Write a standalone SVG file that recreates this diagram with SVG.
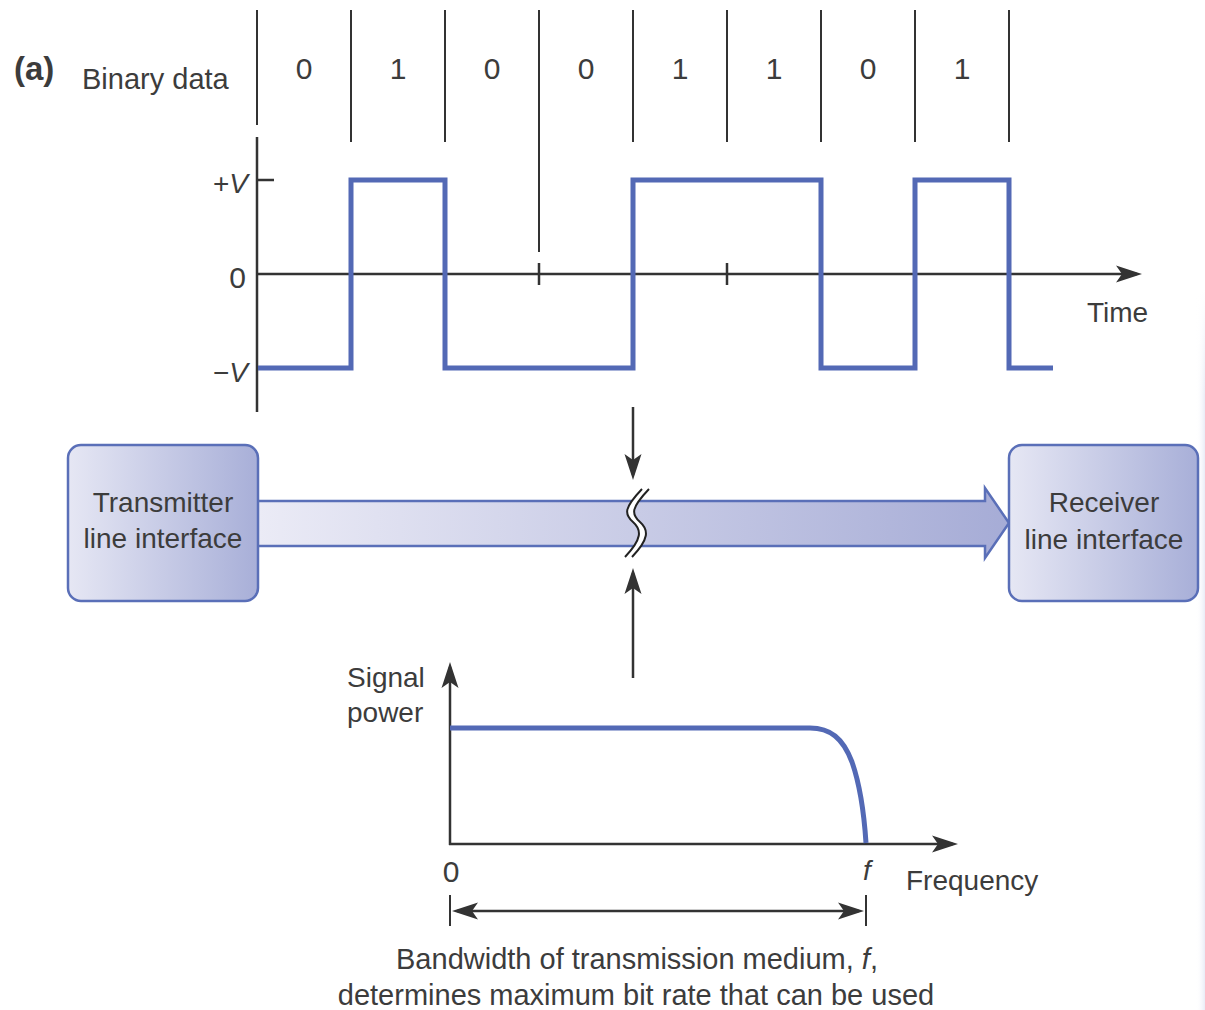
<svg xmlns="http://www.w3.org/2000/svg" width="1205" height="1010" viewBox="0 0 1205 1010">
<style>
text{font-family:"Liberation Sans",Arial,sans-serif;fill:#3c3c3c;font-size:28px}
.mid{text-anchor:middle}
.end{text-anchor:end}
.ax{stroke:#333;stroke-width:2.5;fill:none}
.bit{stroke:#333;stroke-width:2;fill:none}
.wave{stroke:#5369b5;stroke-width:5;fill:none;stroke-linejoin:miter}
.box{stroke:#5a6fb8;stroke-width:2.5;fill:url(#gBox)}
.it{font-style:italic}
.dig{font-size:30px}
.note{font-size:29px}
</style>
<defs>
<linearGradient id="gBox" x1="0" y1="0" x2="1" y2="0">
<stop offset="0" stop-color="#e6e7f4"/><stop offset="1" stop-color="#a8afd8"/>
</linearGradient>
<linearGradient id="gBand" gradientUnits="userSpaceOnUse" x1="258" y1="0" x2="1009" y2="0">
<stop offset="0" stop-color="#ebebf6"/><stop offset="1" stop-color="#a6acd6"/>
</linearGradient>
<linearGradient id="gEdge" x1="0" y1="0" x2="1" y2="0">
<stop offset="0" stop-color="#ffffff" stop-opacity="0"/><stop offset="1" stop-color="#e9ecf6"/>
</linearGradient>
<linearGradient id="gEdgeV" x1="0" y1="0" x2="0" y2="1">
<stop offset="0" stop-color="#fff" stop-opacity="1"/><stop offset="0.15" stop-color="#fff" stop-opacity="0"/>
</linearGradient>
<marker id="ah" viewBox="-27 -9 28 18" refX="-5" refY="0" markerWidth="28" markerHeight="18" markerUnits="userSpaceOnUse" orient="auto-start-reverse">
<path d="M0,0 L-26,-8.5 L-20,0 L-26,8.5 Z" fill="#333"/>
</marker>
</defs>
<rect width="1205" height="1010" fill="#fff"/>
<rect x="1196" y="290" width="9" height="720" fill="url(#gEdge)"/>
<rect x="1196" y="290" width="9" height="720" fill="url(#gEdgeV)"/>

<g id="label-a">
<text x="14" y="80" style="font-weight:bold;font-size:33px">(a)</text>
<text x="82" y="89" style="font-size:29px">Binary data</text>
</g>

<g id="bits">
<line class="bit" x1="257" y1="10" x2="257" y2="125"/>
<line class="bit" x1="351" y1="10" x2="351" y2="142"/>
<line class="bit" x1="445" y1="10" x2="445" y2="142"/>
<line class="bit" x1="539" y1="10" x2="539" y2="252"/>
<line class="bit" x1="633" y1="10" x2="633" y2="142"/>
<line class="bit" x1="727" y1="10" x2="727" y2="142"/>
<line class="bit" x1="821" y1="10" x2="821" y2="142"/>
<line class="bit" x1="915" y1="10" x2="915" y2="142"/>
<line class="bit" x1="1009" y1="10" x2="1009" y2="142"/>
<text class="mid dig" x="304" y="79">0</text>
<text class="mid dig" x="398" y="79">1</text>
<text class="mid dig" x="492" y="79">0</text>
<text class="mid dig" x="586" y="79">0</text>
<text class="mid dig" x="680" y="79">1</text>
<text class="mid dig" x="774" y="79">1</text>
<text class="mid dig" x="868" y="79">0</text>
<text class="mid dig" x="962" y="79">1</text>
</g>

<g id="signal-plot">
<line class="ax" x1="257" y1="137" x2="257" y2="412"/>
<line class="ax" x1="257" y1="274" x2="1137" y2="274" marker-end="url(#ah)"/>
<line class="ax" x1="539" y1="263" x2="539" y2="285"/>
<line class="ax" x1="727" y1="263" x2="727" y2="285"/>
<line class="ax" x1="257" y1="180" x2="274" y2="180"/>
<line class="ax" x1="257" y1="368" x2="274" y2="368"/>
<path class="wave" d="M258,368 H351 V180 H445 V368 H633 V180 H821 V368 H915 V180 H1009 V368 H1053"/>
<text class="end" x="248" y="193">+<tspan class="it">V</tspan></text>
<text class="end dig" x="246" y="288">0</text>
<text class="end" x="248" y="382">−<tspan class="it">V</tspan></text>
<text x="1087" y="322">Time</text>
</g>

<g id="connectors">
<path d="M256,501 H985 V488 L1009,523 L985,558 V546 H256 Z" fill="url(#gBand)" stroke="#5a6fb8" stroke-width="2.5" stroke-linejoin="miter"/>
<path d="M642,489 C624,508 624,514 633,522 C642,530 642,539 625,557 L632,557 C649,539 649,530 640,522 C631,514 631,508 649,489 Z" fill="#fff"/>
<path d="M642,489 C624,508 624,514 633,522 C642,530 642,539 625,557" fill="none" stroke="#222" stroke-width="2"/>
<path d="M649,489 C631,508 631,514 640,522 C649,530 649,539 632,557" fill="none" stroke="#222" stroke-width="2"/>
<line class="ax" x1="633" y1="407" x2="633" y2="475" stroke-width="2" marker-end="url(#ah)"/>
<line class="ax" x1="633" y1="678" x2="633" y2="573" stroke-width="2" marker-end="url(#ah)"/>
</g>

<g id="transmitter">
<rect class="box" x="68" y="445" width="190" height="156" rx="13"/>
<text class="mid" x="163" y="512">Transmitter</text>
<text class="mid" x="163" y="548">line interface</text>
</g>

<g id="receiver">
<rect class="box" x="1009" y="445" width="189" height="156" rx="13"/>
<text class="mid" x="1104" y="512">Receiver</text>
<text class="mid" x="1104" y="549">line interface</text>
</g>

<g id="spectrum">
<line class="ax" x1="450" y1="845" x2="450" y2="667" marker-end="url(#ah)"/>
<line class="ax" x1="449" y1="844" x2="953" y2="844" marker-end="url(#ah)"/>
<path class="wave" d="M450,728 H810 C830,728 843,738 852,762 C860,785 864,812 866,843"/>
<text x="347" y="687">Signal</text>
<text x="347" y="722">power</text>
<text class="mid dig" x="451" y="882">0</text>
<text class="mid it" x="867" y="880">f</text>
<text x="906" y="890">Frequency</text>
<line class="bit" x1="450" y1="895" x2="450" y2="926"/>
<line class="bit" x1="866" y1="895" x2="866" y2="926"/>
<line class="ax" x1="457" y1="911" x2="859" y2="911" marker-start="url(#ah)" marker-end="url(#ah)"/>
<text class="mid note" x="637" y="969">Bandwidth of transmission medium, <tspan class="it">f</tspan>,</text>
<text class="mid note" x="636" y="1005">determines maximum bit rate that can be used</text>
</g>
</svg>
